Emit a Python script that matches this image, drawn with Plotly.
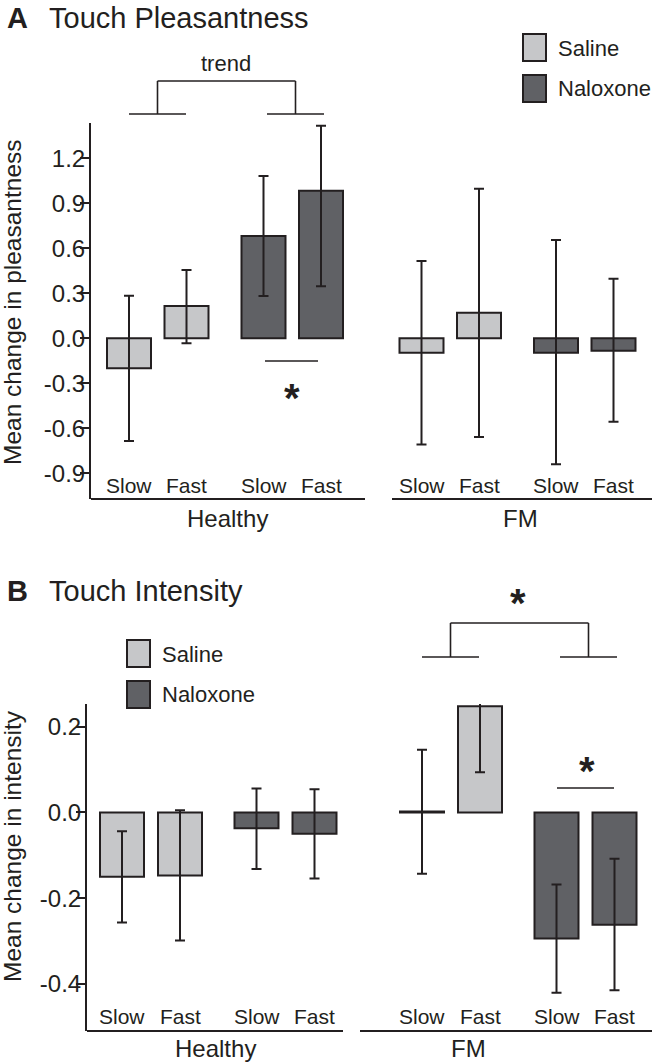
import plotly.graph_objects as go

# ---------------- data ----------------
groups = ["Healthy", "FM"]
drugs = ["Saline", "Naloxone"]
speeds = ["Slow", "Fast"]

# Panel A: Touch pleasantness (order: group -> drug -> speed)
pleas_mean = [-0.20, 0.215, 0.682, 0.984, -0.096, 0.171, -0.096, -0.083]
pleas_upper = [0.284, 0.455, 1.082, 1.417, 0.515, 0.997, 0.655, 0.397]
pleas_lower = [-0.685, -0.033, 0.282, 0.347, -0.707, -0.658, -0.840, -0.556]
pleas_ticks = [-0.9, -0.6, -0.3, 0.0, 0.3, 0.6, 0.9, 1.2]
pleas_ticktext = ["-0.9", "-0.6", "-0.3", "0.0", "0.3", "0.6", "0.9", "1.2"]

# Panel B: Touch intensity
inten_mean = [-0.150, -0.147, -0.037, -0.050, 0.002, 0.248, -0.294, -0.262]
inten_upper = [-0.044, 0.005, 0.056, 0.054, 0.146, 0.336, -0.168, -0.108]
inten_lower = [-0.257, -0.299, -0.132, -0.154, -0.143, 0.094, -0.421, -0.415]
inten_ticks = [-0.4, -0.2, 0.0, 0.2]
inten_ticktext = ["-0.4", "-0.2", "0.0", "0.2"]

# ---------------- styling ----------------
W, H = 652, 1062
FONT = "Liberation Sans, Arial, Helvetica, sans-serif"
INK = "#231f20"
FILL = {"Saline": "#c6c7c9", "Naloxone": "#606165"}
BAR_W = 44


def py(p):
    return 1 - p / H


panels = [
    dict(mean=pleas_mean, up=pleas_upper, lo=pleas_lower, ticks=pleas_ticks, ticktext=pleas_ticktext,
         ax_left=91, ax_top=123, ax_bot=499, rng=[-1.071, 1.435],
         base=129, d_speed=57.5, d_drug=134.5, d_group=292.5,
         xline=[(91, 365), (392, 652)], speed_y=485, group_y=518, group_x=[227, 520],
         ytitle="Mean change in pleasantness", ytitle_y=302,
         title_letter="A", title="Touch Pleasantness", title_y=18,
         legend=(523, 34), ),
    dict(mean=inten_mean, up=inten_upper, lo=inten_lower, ticks=inten_ticks, ticktext=inten_ticktext,
         ax_left=87, ax_top=704, ax_bot=1031, rng=[-0.510, 0.253],
         base=122, d_speed=58, d_drug=134.5, d_group=300,
         xline=[(87, 343), (360, 652)], speed_y=1016, group_y=1048, group_x=[215, 468],
         ytitle="Mean change in intensity", ytitle_y=846,
         title_letter="B", title="Touch Intensity", title_y=591,
         legend=(127, 640), ),
]

fig = go.Figure()
shapes = []
annotations = []

for k, P in enumerate(panels):
    xa = "x" if k == 0 else "x2"
    ya = "y" if k == 0 else "y2"
    # bar positions computed from layout spacing
    pos, labels = [], []
    for gi, g in enumerate(groups):
        for di, d in enumerate(drugs):
            for si, s in enumerate(speeds):
                pos.append(P["base"] + gi * P["d_group"] + di * P["d_drug"] + si * P["d_speed"])
                labels.append(s)
    for di, d in enumerate(drugs):
        idx = [i for i in range(8) if (i // 2) % 2 == di]
        m = [P["mean"][i] for i in idx]
        fig.add_trace(go.Bar(
            x=[pos[i] for i in idx], y=m, width=[BAR_W] * len(idx),
            marker=dict(color=FILL[d], line=dict(color=INK, width=2)),
            error_y=dict(type="data", symmetric=False,
                         array=[P["up"][i] - P["mean"][i] for i in idx],
                         arrayminus=[P["mean"][i] - P["lo"][i] for i in idx],
                         color=INK, thickness=2, width=5),
            xaxis=xa, yaxis=ya, showlegend=False, name=d,
        ))
    # x-axis group lines
    for (x0, x1) in P["xline"]:
        shapes.append(dict(type="line", xref=xa, yref="paper", x0=x0, x1=x1,
                           y0=py(P["ax_bot"]), y1=py(P["ax_bot"]), line=dict(color=INK, width=2)))
    # speed labels
    for x, lab in zip(pos, labels):
        annotations.append(dict(x=x, y=py(P["speed_y"]), xref=xa, yref="paper", text=lab,
                                showarrow=False, font=dict(size=21, color=INK, family=FONT),
                                xanchor="center", yanchor="middle"))
    for gx, g in zip(P["group_x"], groups):
        annotations.append(dict(x=gx, y=py(P["group_y"]), xref=xa, yref="paper", text=g,
                                showarrow=False, font=dict(size=24, color=INK, family=FONT),
                                xanchor="center", yanchor="middle"))
    # y title
    annotations.append(dict(x=12 / W, y=py(P["ytitle_y"]), xref="paper", yref="paper", text=P["ytitle"],
                            textangle=-90, showarrow=False, font=dict(size=24.5, color=INK, family=FONT),
                            xanchor="center", yanchor="middle"))
    # panel titles
    annotations.append(dict(x=5 / W, y=py(P["title_y"]), xref="paper", yref="paper",
                            text="<b>" + P["title_letter"] + "</b>", showarrow=False,
                            font=dict(size=29, color=INK, family=FONT), xanchor="left", yanchor="middle"))
    annotations.append(dict(x=47 / W, y=py(P["title_y"]), xref="paper", yref="paper",
                            text=P["title"], showarrow=False,
                            font=dict(size=29, color=INK, family=FONT), xanchor="left", yanchor="middle"))
    # legend (drawn)
    lx, ly = P["legend"]
    for di, d in enumerate(drugs):
        y0 = ly + di * 41
        shapes.append(dict(type="rect", xref="paper", yref="paper", x0=lx / W, x1=(lx + 23) / W,
                           y0=py(y0), y1=py(y0 + 27), fillcolor=FILL[d], line=dict(color=INK, width=2)))
        annotations.append(dict(x=(lx + 33) / W, y=py(y0 + 14), xref="paper", yref="paper", text=d,
                                showarrow=False, font=dict(size=22, color=INK, family=FONT),
                                xanchor="left", yanchor="middle"))

    fig.update_layout(**{
        ("xaxis" if k == 0 else "xaxis2"): dict(
            domain=[P["ax_left"] / W, 1], range=[P["ax_left"], W], visible=False, anchor=ya),
        ("yaxis" if k == 0 else "yaxis2"): dict(
            domain=[py(P["ax_bot"]), py(P["ax_top"])], range=P["rng"], anchor=xa,
            tickvals=P["ticks"], ticktext=P["ticktext"], ticks="outside", ticklen=9,
            tickwidth=1.5, tickcolor=INK, showline=True, linecolor=INK, linewidth=2,
            showgrid=False, zeroline=False, tickfont=dict(size=24, color=INK, family=FONT),
            ticklabelstandoff=-10, automargin=False),
    })


# significance brackets
def bracket(xa, left, right, y_low, y_top, out):
    lw = dict(color=INK, width=1.6)
    for (a, b) in (left, right):
        out.append(dict(type="line", xref=xa, yref="paper", x0=a, x1=b, y0=py(y_low), y1=py(y_low), line=lw))
    cl = (left[0] + left[1]) / 2
    cr = (right[0] + right[1]) / 2
    out.append(dict(type="line", xref=xa, yref="paper", x0=cl, x1=cl, y0=py(y_low), y1=py(y_top), line=lw))
    out.append(dict(type="line", xref=xa, yref="paper", x0=cr, x1=cr, y0=py(y_low), y1=py(y_top), line=lw))
    out.append(dict(type="line", xref=xa, yref="paper", x0=cl, x1=cr, y0=py(y_top), y1=py(y_top), line=lw))


STAR = dict(size=40, color=INK, family=FONT)
bracket("x", (129, 186), (267, 324), 114, 81, shapes)
annotations.append(dict(x=226, y=py(64), xref="x", yref="paper", text="trend", showarrow=False,
                        font=dict(size=22, color=INK, family=FONT), xanchor="center", yanchor="middle"))
shapes.append(dict(type="line", xref="x", yref="paper", x0=265, x1=318, y0=py(361), y1=py(361),
                   line=dict(color=INK, width=1.6)))
annotations.append(dict(x=292, y=py(398), xref="x", yref="paper", text="<b>*</b>", showarrow=False,
                        font=STAR, xanchor="center", yanchor="middle"))

bracket("x2", (422, 479), (560, 617), 657, 623, shapes)
annotations.append(dict(x=518, y=py(603), xref="x2", yref="paper", text="<b>*</b>", showarrow=False,
                        font=STAR, xanchor="center", yanchor="middle"))
shapes.append(dict(type="line", xref="x2", yref="paper", x0=557, x1=614, y0=py(788), y1=py(788),
                   line=dict(color=INK, width=1.6)))
annotations.append(dict(x=587, y=py(771), xref="x2", yref="paper", text="<b>*</b>", showarrow=False,
                        font=STAR, xanchor="center", yanchor="middle"))

fig.update_layout(
    width=W, height=H, margin=dict(l=0, r=0, t=0, b=0),
    paper_bgcolor="white", plot_bgcolor="white",
    barmode="overlay", shapes=shapes, annotations=annotations,
    font=dict(family=FONT, color=INK), showlegend=False,
)

fig.write_html("out.html", config={"displayModeBar": False},
               post_script="document.body.style.margin='0';document.body.style.overflow='hidden';")
